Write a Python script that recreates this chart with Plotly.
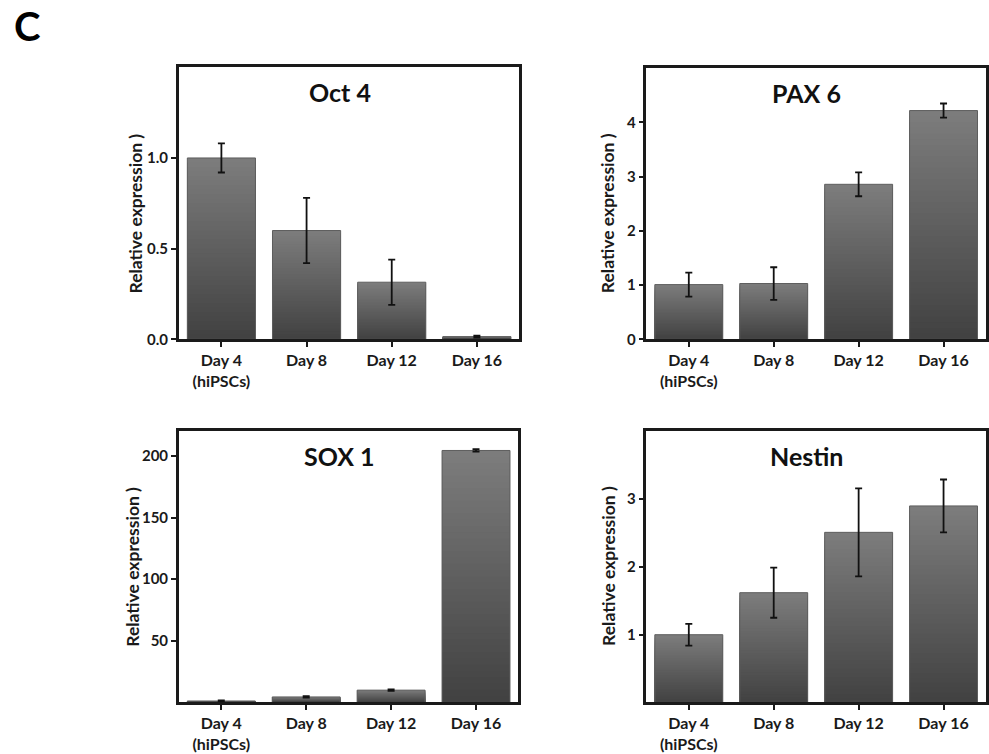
import plotly.graph_objects as go

# Time points (x categories)
days = ["Day 4<br>(hiPSCs)", "Day 8", "Day 12", "Day 16"]

# Relative expression (mean) and error for each marker gene
oct4 = [1.0, 0.60, 0.315, 0.015]
oct4_err = [0.08, 0.18, 0.125, 0.005]

pax6 = [1.01, 1.03, 2.86, 4.22]
pax6_err = [0.22, 0.30, 0.22, 0.13]

sox1 = [1.2, 4.5, 10.0, 204.5]
sox1_err = [0.4, 0.6, 0.6, 1.0]

nestin = [1.0, 1.62, 2.51, 2.90]
nestin_err = [0.16, 0.37, 0.65, 0.39]

# Tick values / labels for the y axes
oct4_ticks = [0.0, 0.5, 1.0]
pax6_ticks = [0, 1, 2, 3, 4]
sox1_ticks = [50, 100, 150, 200]
nestin_ticks = [1, 2, 3]

W, H = 989, 754
FONT = "Lato"
INK = "#1a1a1a"

panels = [
    dict(title="Oct 4", vals=oct4, errs=oct4_err, yrange=[0, 1.5],
         ticks=oct4_ticks, fmt=".1f", xd=(179, 520), yd=(68, 343),
         ytc=0.462, ytx=-43),
    dict(title="PAX 6", vals=pax6, errs=pax6_err, yrange=[0, 5],
         ticks=pax6_ticks, fmt="d", xd=(647, 987), yd=(69, 343),
         ytc=0.467, ytx=-39),
    dict(title="SOX 1", vals=sox1, errs=sox1_err, yrange=[0, 220],
         ticks=sox1_ticks, fmt="d", xd=(179, 519), yd=(436, 710),
         ytc=0.50, ytx=-46),
    dict(title="Nestin", vals=nestin, errs=nestin_err, yrange=[0, 4],
         ticks=nestin_ticks, fmt="d", xd=(647, 987), yd=(436, 710),
         ytc=0.505, ytx=-38),
]

N_STEPS = 40
LIGHT, DARK = 0x7c, 0x42

fig = go.Figure()
annotations = []
layout_axes = {}

for i, p in enumerate(panels, start=1):
    xa = "x" if i == 1 else f"x{i}"
    ya = "y" if i == 1 else f"y{i}"

    # Vertical grey gradient inside each bar: overlaid bars of shrinking height
    for k in range(N_STEPS):
        frac = 1 - k / N_STEPS
        t = k / (N_STEPS - 1)
        g = round(LIGHT + (DARK - LIGHT) * t)
        fig.add_trace(go.Bar(
            x=days, y=[v * frac for v in p["vals"]],
            xaxis=xa, yaxis=ya,
            marker=dict(color=f"rgb({g},{g},{g})", line=dict(width=0)),
            showlegend=False, hoverinfo="skip",
        ))

    # Bar outline with error bars
    fig.add_trace(go.Bar(
        x=days, y=p["vals"], xaxis=xa, yaxis=ya,
        marker=dict(color="rgba(0,0,0,0)", line=dict(color="#5e5e5e", width=1)),
        error_y=dict(type="data", array=p["errs"], visible=True,
                     color="#111111", thickness=1.8, width=3.5),
        showlegend=False,
    ))

    x0, x1 = p["xd"]
    y0, y1 = p["yd"]
    xkey = "xaxis" if i == 1 else f"xaxis{i}"
    ykey = "yaxis" if i == 1 else f"yaxis{i}"
    layout_axes[xkey] = dict(
        domain=[x0 / W, x1 / W], anchor=ya, type="category",
        range=[-0.5, 3.5], showgrid=False, zeroline=False,
        showline=True, linecolor=INK, linewidth=2.5, mirror=True,
        ticks="outside", ticklen=5, tickwidth=2, tickcolor=INK,
        tickfont=dict(family=FONT, size=16, color=INK, weight="bold"),
    )
    layout_axes[ykey] = dict(
        domain=[1 - y1 / H, 1 - y0 / H], anchor=xa,
        range=p["yrange"], showgrid=False, zeroline=False,
        tickvals=p["ticks"], tickformat=p["fmt"],
        showline=True, linecolor=INK, linewidth=2.5, mirror=True,
        ticks="outside", ticklen=5, tickwidth=2, tickcolor=INK,
        tickfont=dict(family=FONT, size=15, color=INK, weight="bold"),
    )

    annotations.append(dict(
        text=p["title"], xref=f"{xa} domain", yref=f"{ya} domain",
        x=0.472, y=0.908, xanchor="center", yanchor="middle", showarrow=False,
        font=dict(family=FONT, size=25, color="#111111", weight="bold"),
    ))
    annotations.append(dict(
        text="Relative expression )", xref=f"{xa} domain", yref=f"{ya} domain",
        x=p["ytx"] / (x1 - x0), y=p["ytc"], xanchor="center", yanchor="middle",
        textangle=-90, showarrow=False,
        font=dict(family=FONT, size=17.5, color=INK, weight="bold"),
    ))

annotations.append(dict(
    text="C", xref="paper", yref="paper", x=12 / W, y=1.0,
    xanchor="left", yanchor="top", showarrow=False,
    font=dict(family=FONT, size=40, color="#000000", weight="bold"),
))

fig.update_layout(
    width=W, height=H,
    margin=dict(l=0, r=0, t=0, b=0),
    paper_bgcolor="white", plot_bgcolor="white",
    barmode="overlay", bargap=0.2,
    annotations=annotations,
    **layout_axes,
)

fig.write_html("out.html")
